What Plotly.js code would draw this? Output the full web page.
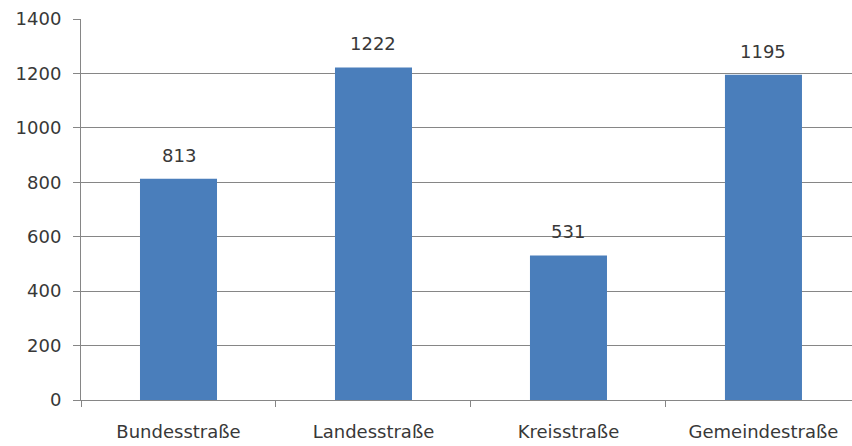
<!DOCTYPE html>
<html><head><meta charset="utf-8">
<script src="https://cdn.plot.ly/plotly-3.0.1.min.js"></script>
<style>html,body{margin:0;padding:0;background:#fff}#c{width:852px;height:446px}</style>
</head><body><div id="c"></div>
<script>
const categories = ["Bundesstraße", "Landesstraße", "Kreisstraße", "Gemeindestraße"];
const values = [813, 1222, 531, 1195];
const yTicks = [0, 200, 400, 600, 800, 1000, 1200, 1400];

const font = {family: "'DejaVu Sans', sans-serif", size: 18, color: "#383838"};
const data = [{
  type: "bar", x: categories, y: values,
  marker: {color: "#4A7EBB"}, hoverinfo: "none"
}];
const annotations = categories.map((c, i) => ({
  x: c, y: values[i], xref: "x", yref: "y", text: String(values[i]),
  showarrow: false, yanchor: "bottom", yshift: 11, font: font
}));
const layout = {
  width: 852, height: 446,
  margin: {l: 81, r: 0, t: 19, b: 46},
  paper_bgcolor: "#fff", plot_bgcolor: "#fff",
  bargap: 0.605, showlegend: false, font: font,
  xaxis: {
    type: "category", range: [-0.5, 3.454], showgrid: false,
    showline: true, linecolor: "#868686", linewidth: 1,
    ticks: "outside", tickson: "boundaries", ticklen: 6, tickcolor: "#868686",
    tickfont: font, ticklabelstandoff: 15
  },
  yaxis: {
    range: [0, 1400], tickvals: yTicks, ticktext: yTicks.map(String),
    showgrid: true, gridcolor: "#868686", gridwidth: 1,
    showline: true, linecolor: "#868686", linewidth: 1,
    ticks: "outside", ticklen: 7, tickcolor: "#868686",
    tickfont: font, ticklabelstandoff: 8, zeroline: false
  },
  annotations: annotations
};
Plotly.newPlot("c", data, layout, {displayModeBar: false, staticPlot: true});
</script></body></html>
